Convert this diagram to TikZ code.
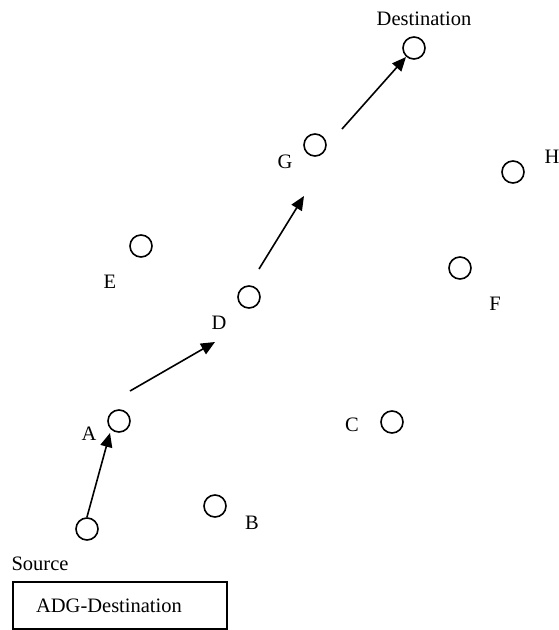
\documentclass[tikz,border=0pt]{standalone}
\usepackage{fontspec}
\setmainfont{Liberation Serif}
\usetikzlibrary{arrows.meta}
\begin{document}
\begin{tikzpicture}[x=1pt,y=-1pt,
  site/.style={draw,circle,line width=1.6pt,minimum size=22pt,inner sep=0pt},
  lbl/.style={inner sep=0pt,font=\fontsize{20.5}{24}\selectfont},
  hop/.style={line width=1.6pt,-{Triangle[length=14pt,width=12pt]}}]
\useasboundingbox (0,0) rectangle (558,630);
% sites
\node[site] (src) at (87,529) {};
\node[site] (a) at (119,421) {};
\node[site] (b) at (215,506) {};
\node[site] (c) at (392,422) {};
\node[site] (d) at (249,297) {};
\node[site] (e) at (141,246) {};
\node[site] (f) at (460,268) {};
\node[site] (g) at (315,145) {};
\node[site] (h) at (513,172) {};
\node[site] (dst) at (414,48) {};
% labels
\node[lbl] (la) at (89,434) {A};
\node[lbl] (lb) at (252,523) {B};
\node[lbl] (lc) at (352,425) {C};
\node[lbl] (ld) at (219,323) {D};
\node[lbl] (le) at (110,282) {E};
\node[lbl] (lf) at (495,304) {F};
\node[lbl] (lg) at (285,162) {G};
\node[lbl] (lh) at (552,157) {H};
\node[lbl] (ldst) at (424,19) {Destination};
\node[lbl] (lsrc) at (40,564) {Source};
\node[lbl,draw,line width=1.3pt,minimum width=214pt,minimum height=47pt] (box) at (120,605.5) {};
\node[lbl] (boxtext) at (109,606) {ADG-Destination};
% arrow end points
\coordinate (s1) at (87,517);  \coordinate (t1) at (110,433);
\coordinate (s2) at (130,391); \coordinate (t2) at (215,342);
\coordinate (s3) at (259,269); \coordinate (t3) at (304,196);
\coordinate (s4) at (342,129); \coordinate (t4) at (406,57);
\draw[hop] (s1) -- (t1);
\draw[hop] (s2) -- (t2);
\draw[hop] (s3) -- (t3);
\draw[hop] (s4) -- (t4);
\end{tikzpicture}
\end{document}
